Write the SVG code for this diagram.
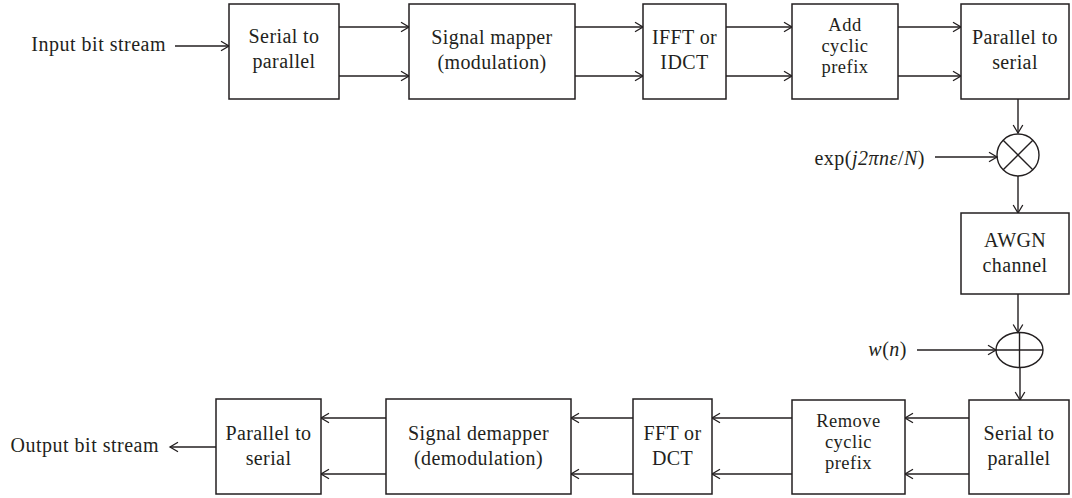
<svg xmlns="http://www.w3.org/2000/svg" width="1072" height="498" viewBox="0 0 1072 498">
<style>
  .box{fill:#fff;stroke:#231f20;stroke-width:1.5}
  .ln{fill:none;stroke:#231f20;stroke-width:1.4}
  .t{font-family:"Liberation Serif","Times New Roman",serif;font-size:20px;letter-spacing:0.4px;fill:#231f20;text-anchor:middle}
  .t3{font-family:"Liberation Serif","Times New Roman",serif;font-size:18.5px;letter-spacing:0.5px;fill:#231f20;text-anchor:middle}
  .l{font-family:"Liberation Serif","Times New Roman",serif;font-size:20px;letter-spacing:0.5px;fill:#231f20;text-anchor:end}
  .i{font-style:italic}
</style>
<defs>
  <marker id="ah" markerUnits="userSpaceOnUse" markerWidth="12" markerHeight="12" viewBox="-10 -6 12 12" refX="0" refY="0" orient="auto">
    <path d="M-8,-4.8 L0,0 L-8,4.8" fill="none" stroke="#231f20" stroke-width="1.3"/>
  </marker>
</defs>

<g id="connectors" class="ln" marker-end="url(#ah)">
  <line x1="175" y1="46" x2="229" y2="46"/>
  <line x1="339" y1="27" x2="409" y2="27"/>
  <line x1="339" y1="76" x2="409" y2="76"/>
  <line x1="575" y1="27" x2="643" y2="27"/>
  <line x1="575" y1="76" x2="643" y2="76"/>
  <line x1="726" y1="27" x2="792" y2="27"/>
  <line x1="726" y1="76" x2="792" y2="76"/>
  <line x1="898" y1="27" x2="961" y2="27"/>
  <line x1="898" y1="76" x2="961" y2="76"/>
  <line x1="1018" y1="99" x2="1018" y2="133"/>
  <line x1="935" y1="157" x2="997" y2="157"/>
  <line x1="1018" y1="176" x2="1018" y2="213"/>
  <line x1="1018" y1="294" x2="1018" y2="332.5"/>
  <line x1="917" y1="350" x2="996" y2="350"/>
  <line x1="1020" y1="367.5" x2="1020" y2="400"/>
  <line x1="969" y1="418" x2="905" y2="418"/>
  <line x1="969" y1="474" x2="905" y2="474"/>
  <line x1="792" y1="418" x2="712" y2="418"/>
  <line x1="792" y1="474" x2="712" y2="474"/>
  <line x1="633" y1="418" x2="571" y2="418"/>
  <line x1="633" y1="474" x2="571" y2="474"/>
  <line x1="386" y1="418" x2="321" y2="418"/>
  <line x1="386" y1="474" x2="321" y2="474"/>
  <line x1="216" y1="447" x2="170" y2="447"/>
</g>

<g id="input-label"><text class="l" x="166" y="51">Input bit stream</text></g>
<g id="output-label"><text class="l" x="159" y="452">Output bit stream</text></g>

<g id="s2p-tx">
  <rect class="box" x="229" y="4" width="110" height="95"/>
  <text class="t" x="284" y="43">Serial to</text>
  <text class="t" x="284" y="68">parallel</text>
</g>
<g id="mapper">
  <rect class="box" x="409" y="4" width="166" height="95"/>
  <text class="t" x="492" y="44">Signal mapper</text>
  <text class="t" x="492" y="69">(modulation)</text>
</g>
<g id="ifft">
  <rect class="box" x="643" y="4" width="83" height="95"/>
  <text class="t" x="684.5" y="44">IFFT or</text>
  <text class="t" x="684.5" y="69">IDCT</text>
</g>
<g id="add-cp">
  <rect class="box" x="792" y="4" width="106" height="95"/>
  <text class="t3" x="845" y="31">Add</text>
  <text class="t3" x="845" y="52">cyclic</text>
  <text class="t3" x="845" y="73">prefix</text>
</g>
<g id="p2s-tx">
  <rect class="box" x="961" y="4" width="108" height="95"/>
  <text class="t" x="1015" y="44">Parallel to</text>
  <text class="t" x="1015" y="69">serial</text>
</g>

<g id="multiplier">
  <circle class="ln" cx="1018" cy="155" r="21"/>
  <line class="ln" x1="1003.2" y1="140.2" x2="1032.8" y2="169.8"/>
  <line class="ln" x1="1032.8" y1="140.2" x2="1003.2" y2="169.8"/>
</g>
<g id="exp-label">
  <text class="l" x="925" y="165">exp(<tspan class="i">j2πnε</tspan>/<tspan class="i">N</tspan>)</text>
</g>

<g id="awgn">
  <rect class="box" x="961" y="213" width="108" height="81"/>
  <text class="t" x="1015" y="247">AWGN</text>
  <text class="t" x="1015" y="272">channel</text>
</g>

<g id="adder">
  <ellipse class="ln" cx="1019.5" cy="350" rx="23.5" ry="17.5"/>
  <line class="ln" x1="1019.5" y1="332.5" x2="1019.5" y2="367.5"/>
  <line class="ln" x1="996" y1="350" x2="1043" y2="350"/>
</g>
<g id="wn-label">
  <text class="l" x="907" y="356"><tspan class="i">w</tspan>(<tspan class="i">n</tspan>)</text>
</g>

<g id="s2p-rx">
  <rect class="box" x="969" y="400" width="100" height="94"/>
  <text class="t" x="1019" y="440">Serial to</text>
  <text class="t" x="1019" y="465">parallel</text>
</g>
<g id="remove-cp">
  <rect class="box" x="792" y="400" width="113" height="94"/>
  <text class="t3" x="848.5" y="427">Remove</text>
  <text class="t3" x="848.5" y="448">cyclic</text>
  <text class="t3" x="848.5" y="469">prefix</text>
</g>
<g id="fft">
  <rect class="box" x="633" y="399" width="79" height="95"/>
  <text class="t" x="672.5" y="440">FFT or</text>
  <text class="t" x="672.5" y="465">DCT</text>
</g>
<g id="demapper">
  <rect class="box" x="386" y="399" width="185" height="95"/>
  <text class="t" x="478.5" y="440">Signal demapper</text>
  <text class="t" x="478.5" y="465">(demodulation)</text>
</g>
<g id="p2s-rx">
  <rect class="box" x="216" y="399" width="105" height="95"/>
  <text class="t" x="268.5" y="440">Parallel to</text>
  <text class="t" x="268.5" y="465">serial</text>
</g>
</svg>
